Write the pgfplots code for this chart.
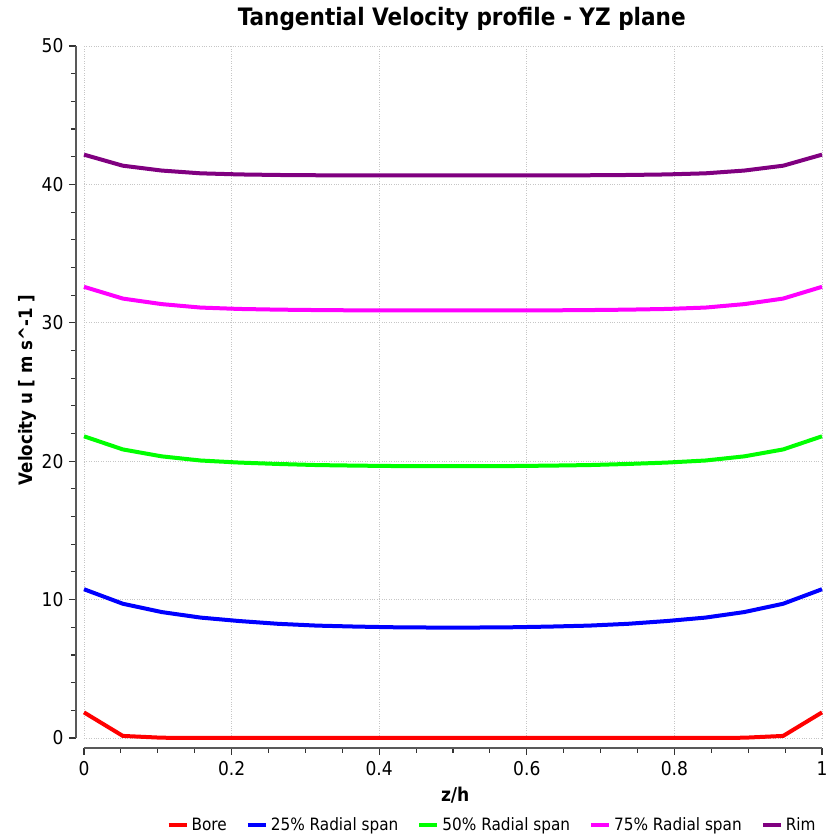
\documentclass[border=0pt]{standalone}
\usepackage{pgfplots}
\pgfplotsset{compat=1.18}
\usepackage{fontspec}
\setmainfont{DejaVu Sans Condensed}
\definecolor{rimc}{RGB}{128,0,128}
\definecolor{magc}{RGB}{255,0,255}
\definecolor{redc}{RGB}{255,0,0}
\definecolor{bluec}{RGB}{0,0,255}
\definecolor{greenc}{RGB}{0,255,0}
\begin{document}
\begin{tikzpicture}
\useasboundingbox (-84pt,-96pt) rectangle (751pt,738pt);
\begin{axis}[
  scale only axis, width=738pt, height=692pt,
  xmin=0, xmax=1, ymin=0, ymax=50,
  axis lines=left, axis line style={-, black!65, line width=1.4pt},
  axis x line shift=10pt, axis y line shift=8pt,
  xtick={0,0.2,0.4,0.6,0.8,1}, ytick={0,10,20,30,40,50},
  minor x tick num=3, minor y tick num=4,
  tick align=outside, major tick length=7pt, minor tick length=5pt,
  tick style={black!80, line width=1.1pt},
  xticklabels={0,0.2,0.4,0.6,0.8,1},
  yticklabels={0,10,20,30,40,50},
  tick label style={font=\fontsize{19}{22}\selectfont},
  xticklabel style={yshift=-3pt},
  yticklabel style={xshift=-2pt},
  grid=major, grid style={gray!45, dotted, line width=0.9pt},
  title={\textbf{Tangential Velocity profile - YZ plane}},
  title style={font=\fontsize{24}{28}\selectfont, at={(axis description cs:0.512,1.03)}, anchor=center},
  xlabel={\textbf{z/h}}, ylabel={\textbf{Velocity u [ m s\textasciicircum -1 ]}},
  xlabel style={font=\fontsize{19}{22}\selectfont, at={(axis description cs:0.503,-0.083)}, anchor=center},
  ylabel style={font=\fontsize{18.5}{21}\selectfont, at={(axis description cs:-0.076,0.503)}, anchor=center},
  legend columns=5,
  legend style={draw=none, fill=none, font=\fontsize{17}{19}\selectfont, at={(axis description cs:0.553,-0.126)}, anchor=center, /tikz/every even column/.append style={column sep=17pt}, /tikz/every odd column/.append style={column sep=1pt}},
  legend image code/.code={\draw[#1, line width=4pt] (0pt,0pt) -- (18pt,0pt);},
  every axis plot/.append style={line width=4pt},
  clip=false,
]
\addplot[redc] coordinates {(0,1.85) (0.05263,0.15) (0.10526,0.02) (0.15789,0) (0.21053,0) (0.26316,0) (0.31579,0) (0.36842,0) (0.42105,0) (0.47368,0) (0.52632,0) (0.57895,0) (0.63158,0) (0.68421,0) (0.73684,0) (0.78947,0) (0.84211,0) (0.89474,0.02) (0.94737,0.15) (1,1.85)};
\addlegendentry{Bore}
\addplot[bluec] coordinates {(0,10.75) (0.05263,9.7) (0.10526,9.1) (0.15789,8.7) (0.21053,8.45) (0.26316,8.25) (0.31579,8.12) (0.36842,8.05) (0.42105,8.0) (0.47368,7.98) (0.52632,7.98) (0.57895,8.0) (0.63158,8.05) (0.68421,8.12) (0.73684,8.25) (0.78947,8.45) (0.84211,8.7) (0.89474,9.1) (0.94737,9.7) (1,10.75)};
\addlegendentry{25\% Radial span}
\addplot[greenc] coordinates {(0,21.8) (0.05263,20.85) (0.10526,20.35) (0.15789,20.05) (0.21053,19.9) (0.26316,19.8) (0.31579,19.72) (0.36842,19.68) (0.42105,19.65) (0.47368,19.65) (0.52632,19.65) (0.57895,19.65) (0.63158,19.68) (0.68421,19.72) (0.73684,19.8) (0.78947,19.9) (0.84211,20.05) (0.89474,20.35) (0.94737,20.85) (1,21.8)};
\addlegendentry{50\% Radial span}
\addplot[magc] coordinates {(0,32.6) (0.05263,31.75) (0.10526,31.35) (0.15789,31.1) (0.21053,31.0) (0.26316,30.95) (0.31579,30.92) (0.36842,30.9) (0.42105,30.9) (0.47368,30.9) (0.52632,30.9) (0.57895,30.9) (0.63158,30.9) (0.68421,30.92) (0.73684,30.95) (0.78947,31.0) (0.84211,31.1) (0.89474,31.35) (0.94737,31.75) (1,32.6)};
\addlegendentry{75\% Radial span}
\addplot[rimc] coordinates {(0,42.15) (0.05263,41.35) (0.10526,41.0) (0.15789,40.8) (0.21053,40.72) (0.26316,40.68) (0.31579,40.66) (0.36842,40.65) (0.42105,40.65) (0.47368,40.65) (0.52632,40.65) (0.57895,40.65) (0.63158,40.65) (0.68421,40.66) (0.73684,40.68) (0.78947,40.72) (0.84211,40.8) (0.89474,41.0) (0.94737,41.35) (1,42.15)};
\addlegendentry{Rim}
\end{axis}
\end{tikzpicture}
\end{document}
